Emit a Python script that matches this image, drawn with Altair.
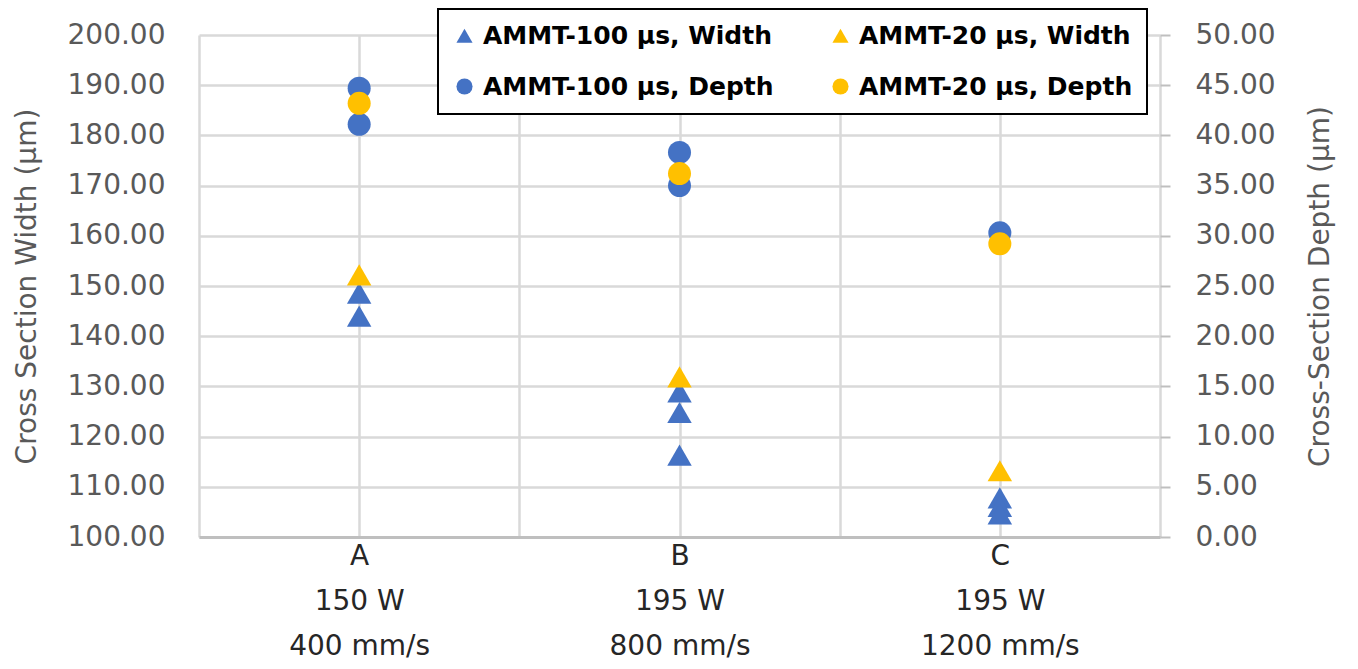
import altair as alt
import pandas as pd

# ---------------- data ----------------
categories = ["A", "B", "C"]
powers = ["150 W", "195 W", "195 W"]
speeds = ["400 mm/s", "800 mm/s", "1200 mm/s"]
cat_pos = [0.5, 1.5, 2.5]

series_names = ["AMMT-100 µs, Width", "AMMT-20 µs, Width",
                "AMMT-100 µs, Depth", "AMMT-20 µs, Depth"]
series_colors = ["#4472C4", "#FFC000", "#4472C4", "#FFC000"]
series_shapes = ["triangle-up", "triangle-up", "circle", "circle"]

# Cross-section width (µm), left axis
width_100_cat = ["A", "A", "B", "B", "B", "C", "C", "C"]
width_100_val = [148.6, 144.0, 128.9, 124.8, 116.3, 107.8, 106.1, 104.6]
width_20_cat = ["A", "B", "C"]
width_20_val = [152.2, 131.9, 113.2]

# Cross-section depth (µm), right axis
depth_100_cat = ["A", "A", "B", "B", "C"]
depth_100_val = [44.7, 41.1, 38.3, 35.0, 30.3]
depth_20_cat = ["A", "B", "C"]
depth_20_val = [43.2, 36.2, 29.2]

pos = dict(zip(categories, cat_pos))


def frame(series, cats, vals):
    return pd.DataFrame({"series": series, "cat": cats,
                         "x": [pos[c] for c in cats], "value": vals})


width_df = pd.concat([frame(series_names[0], width_100_cat, width_100_val),
                      frame(series_names[1], width_20_cat, width_20_val)])
depth_df = pd.concat([frame(series_names[2], depth_100_cat, depth_100_val),
                      frame(series_names[3], depth_20_cat, depth_20_val)])

# ---------------- styling ----------------
FONT = "DejaVu Sans"
GRID = "#d9d9d9"
AXISGRAY = "#595959"

label_expr = " : ".join(
    f"datum.value == {p} ? ['{c}', '{w}', '{s}']"
    for p, c, w, s in zip(cat_pos, categories, powers, speeds)
) + " : ''"

x_enc = alt.X(
    "x:Q",
    scale=alt.Scale(domain=[0, 3], nice=False, zero=False),
    axis=alt.Axis(
        values=[0, 0.5, 1, 1.5, 2, 2.5, 3], labelExpr=label_expr, title=None,
        grid=True, gridColor=GRID, gridWidth=2.5, ticks=False,
        domainColor="#bfbfbf", domainWidth=3,
        labelFont=FONT, labelFontSize=28, labelColor="#262626",
        labelLineHeight=45, labelPadding=5, labelOverlap=False, labelBound=False,
        labelFlush=False,
    ),
)

legend = alt.Legend(
    orient="none", legendX=239, legendY=-26, columns=2, direction="horizontal",
    title=None,
    labelFont=FONT, labelFontSize=25, labelFontWeight="bold", labelColor="black",
    labelLimit=600, labelOffset=6, symbolSize=260, symbolStrokeWidth=0,
    symbolOpacity=1, columnPadding=54, rowPadding=25, padding=14,
    strokeColor="black", fillColor="white",
)

color_enc = alt.Color("series:N", scale=alt.Scale(domain=series_names, range=series_colors),
                      legend=legend)
shape_enc = alt.Shape("series:N", scale=alt.Scale(domain=series_names, range=series_shapes),
                      legend=legend)

width_layer = alt.Chart(width_df).mark_point(filled=True, opacity=1, size=600).encode(
    x=x_enc,
    y=alt.Y("value:Q", scale=alt.Scale(domain=[100, 200], nice=False, zero=False),
            axis=alt.Axis(
                orient="left", values=list(range(100, 201, 10)), format=".2f",
                title="Cross Section Width (µm)", grid=True, gridColor=GRID, gridWidth=2.5,
                ticks=False, domain=False, labelFont=FONT, labelFontSize=28,
                labelColor=AXISGRAY, labelPadding=34,
                titleFont=FONT, titleFontSize=28, titleFontWeight="normal",
                titleColor=AXISGRAY, titleX=-172, titleY=251, titleAngle=270,
                titleAlign="center", titleBaseline="middle",
            )),
    color=color_enc, shape=shape_enc,
)

depth_layer = alt.Chart(depth_df).mark_point(filled=True, opacity=1, size=530).encode(
    x=x_enc,
    y=alt.Y("value:Q", scale=alt.Scale(domain=[0, 50], nice=False, zero=False),
            axis=alt.Axis(
                orient="right", values=list(range(0, 51, 5)), format=".2f",
                title="Cross-Section Depth (µm)", grid=False,
                ticks=True, tickSize=10, tickColor="#bfbfbf", tickWidth=2,
                domain=False, labelFont=FONT, labelFontSize=28,
                labelColor=AXISGRAY, labelPadding=25,
                titleFont=FONT, titleFontSize=28, titleFontWeight="normal",
                titleColor=AXISGRAY, titleX=160, titleY=251, titleAngle=270,
                titleAlign="center", titleBaseline="middle",
            )),
    color=color_enc, shape=shape_enc,
)

chart = alt.layer(width_layer, depth_layer).resolve_scale(y="independent").properties(
    width=961, height=502,
    padding={"left": 191, "top": 27, "right": 190, "bottom": 131},
    autosize=alt.AutoSizeParams(type="none"),
    background="white",
).configure_view(stroke=None).configure_legend(strokeWidth=2)

chart.save("out.html", embed_options={"renderer": "svg", "actions": False})
